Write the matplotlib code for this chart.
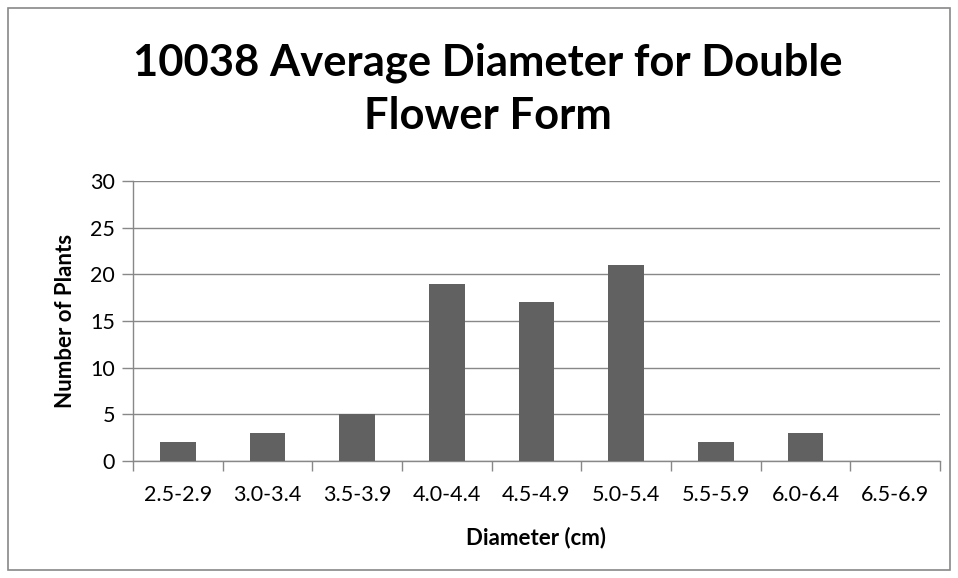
import matplotlib.pyplot as plt
import numpy as np
from matplotlib.patches import Rectangle

plt.rcParams['font.family'] = ['Lato', 'DejaVu Sans']

categories = ["2.5-2.9", "3.0-3.4", "3.5-3.9", "4.0-4.4", "4.5-4.9",
              "5.0-5.4", "5.5-5.9", "6.0-6.4", "6.5-6.9"]
counts = [2, 3, 5, 19, 17, 21, 2, 3, 0]
yticks = [0, 5, 10, 15, 20, 25, 30]

fig = plt.figure(figsize=(9.58, 5.78), dpi=100)
ax = fig.add_axes([133 / 958, 117 / 578, 807 / 958, 280 / 578])

x = np.arange(len(categories))
ax.bar(x, counts, width=0.4, color='#616161', zorder=3)

ax.set_xlim(-0.5, len(categories) - 0.5)
ax.set_ylim(0, 30)
ax.set_yticks(yticks)
ax.set_xticks(x)
ax.set_xticklabels(categories, fontsize=15.5)
ax.set_xticks(np.arange(-0.5, len(categories)), minor=True)
ax.tick_params(axis='x', which='major', length=0, pad=17)
ax.tick_params(axis='x', which='minor', length=7, color='#888888', width=1)
ax.tick_params(axis='y', length=8, color='#888888', width=1, labelsize=15.5, pad=5)
ax.grid(axis='y', color='#888888', linewidth=1, zorder=0)

for s in ['top', 'right']:
    ax.spines[s].set_visible(False)
for s in ['left', 'bottom']:
    ax.spines[s].set_color('#888888')
    ax.spines[s].set_linewidth(1)

ax.set_xlabel("Diameter (cm)", fontsize=16, fontweight='bold', labelpad=16)
ax.set_ylabel("Number of Plants", fontsize=16, fontweight='bold', labelpad=10)

fig.text(0.509, 0.846, "10038 Average Diameter for Double\nFlower Form",
         ha='center', va='center', fontsize=31.3, fontweight='bold',
         linespacing=1.38)

fig.patches.append(Rectangle((8 / 958, 8 / 578), 942 / 958, 562 / 578,
                             transform=fig.transFigure, fill=False,
                             edgecolor='#888888', linewidth=1.2))

fig.savefig('out.png', dpi=100)
